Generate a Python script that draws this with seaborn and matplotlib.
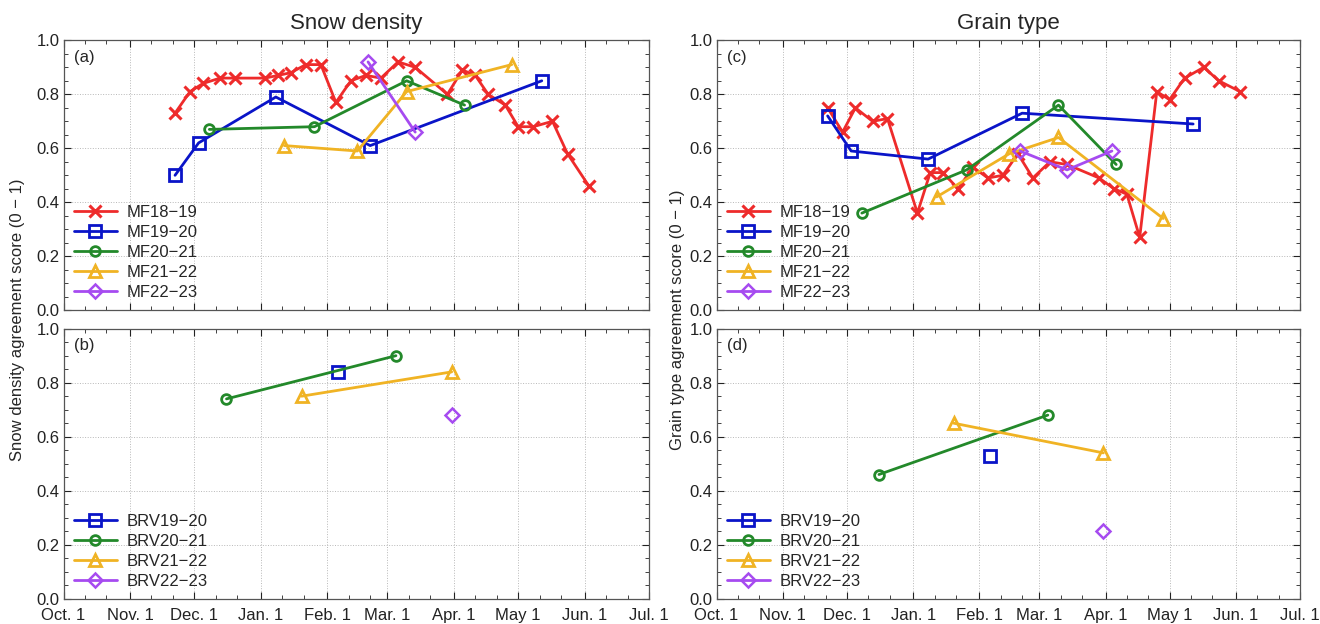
import numpy as np
import matplotlib
matplotlib.use("Agg")
import matplotlib.pyplot as plt
import seaborn as sns

# x positions are days since Oct. 1
month_days = [0, 31, 61, 92, 123, 151, 182, 212, 243, 273]
month_labels = ["Oct. 1", "Nov. 1", "Dec. 1", "Jan. 1", "Feb. 1",
                "Mar. 1", "Apr. 1", "May 1", "Jun. 1", "Jul. 1"]

# MF series (top panels)
mf1819_days = [52, 59, 65, 73, 80, 94, 100, 106, 113, 120, 127, 134, 141,
               148, 156, 164, 179, 186, 192, 198, 206, 212, 219, 228, 235, 245]
density_mf1819 = [0.73, 0.81, 0.84, 0.86, 0.86, 0.86, 0.87, 0.88, 0.91, 0.91,
                  0.77, 0.85, 0.87, 0.86, 0.92, 0.90, 0.80, 0.89, 0.87, 0.80,
                  0.76, 0.68, 0.68, 0.70, 0.58, 0.46]
grain_mf1819 = [0.75, 0.66, 0.75, 0.70, 0.71, 0.36, 0.51, 0.51, 0.45, 0.53,
                0.49, 0.50, 0.58, 0.49, 0.55, 0.54, 0.49, 0.45, 0.43, 0.27,
                0.81, 0.78, 0.86, 0.90, 0.85, 0.81]

mf1920_days = [52, 63, 99, 143, 223]
density_mf1920 = [0.50, 0.62, 0.79, 0.61, 0.85]
grain_mf1920 = [0.72, 0.59, 0.56, 0.73, 0.69]

mf2021_days = [68, 117, 160, 187]
density_mf2021 = [0.67, 0.68, 0.85, 0.76]
grain_mf2021 = [0.36, 0.52, 0.76, 0.54]

mf2122_days = [103, 137, 160, 209]
density_mf2122 = [0.61, 0.59, 0.81, 0.91]
grain_mf2122 = [0.42, 0.58, 0.64, 0.34]

mf2223_days = [142, 164, 185]
density_mf2223 = [0.92, 0.66, np.nan]
grain_mf2223 = [0.59, 0.52, 0.59]

# BRV series (bottom panels)
brv1920_days = [128]
density_brv1920 = [0.84]
grain_brv1920 = [0.53]

brv2021_days = [76, 155]
density_brv2021 = [0.74, 0.90]
grain_brv2021 = [0.46, 0.68]

brv2122_days = [111, 181]
density_brv2122 = [0.75, 0.84]
grain_brv2122 = [0.65, 0.54]

brv2223_days = [181]
density_brv2223 = [0.68]
grain_brv2223 = [0.25]

RED, BLUE, GREEN, GOLD, PURPLE = "#ee2b2b", "#0a14c8", "#23892a", "#f0b324", "#a64bf0"

style = {
    "18": dict(color=RED, marker="x", markersize=9, mew=2.2),
    "19": dict(color=BLUE, marker="s", markersize=8, mew=2),
    "20": dict(color=GREEN, marker="o", markersize=7, mew=2),
    "21": dict(color=GOLD, marker="^", markersize=9, mew=2),
    "22": dict(color=PURPLE, marker="D", markersize=7, mew=1.8),
}

top_density = [("MF18\u221219", mf1819_days, density_mf1819, "18"),
               ("MF19\u221220", mf1920_days, density_mf1920, "19"),
               ("MF20\u221221", mf2021_days, density_mf2021, "20"),
               ("MF21\u221222", mf2122_days, density_mf2122, "21"),
               ("MF22\u221223", mf2223_days, density_mf2223, "22")]
top_grain = [("MF18\u221219", mf1819_days, grain_mf1819, "18"),
             ("MF19\u221220", mf1920_days, grain_mf1920, "19"),
             ("MF20\u221221", mf2021_days, grain_mf2021, "20"),
             ("MF21\u221222", mf2122_days, grain_mf2122, "21"),
             ("MF22\u221223", mf2223_days, grain_mf2223, "22")]
bot_density = [("BRV19\u221220", brv1920_days, density_brv1920, "19"),
               ("BRV20\u221221", brv2021_days, density_brv2021, "20"),
               ("BRV21\u221222", brv2122_days, density_brv2122, "21"),
               ("BRV22\u221223", brv2223_days, density_brv2223, "22")]
bot_grain = [("BRV19\u221220", brv1920_days, grain_brv1920, "19"),
             ("BRV20\u221221", brv2021_days, grain_brv2021, "20"),
             ("BRV21\u221222", brv2122_days, grain_brv2122, "21"),
             ("BRV22\u221223", brv2223_days, grain_brv2223, "22")]

sns.set_theme(style="ticks")
plt.rcParams['font.family'] = ['Liberation Sans', 'DejaVu Sans']
plt.rcParams['axes.unicode_minus'] = True

fig = plt.figure(figsize=(13.2, 6.24), dpi=100)
W, H = 1320, 624
def box(l, r, t, b):
    return [l / W, 1 - b / H, (r - l) / W, (b - t) / H]

ax_a = fig.add_axes(box(63.5, 649, 40.3, 310.3))
ax_b = fig.add_axes(box(63.5, 649, 328.7, 598.7))
ax_c = fig.add_axes(box(716.5, 1300, 40.3, 310.3))
ax_d = fig.add_axes(box(716.5, 1300, 328.7, 598.7))

minor_days = []
for i in range(len(month_days) - 1):
    minor_days += [month_days[i] + 10, month_days[i] + 20]


def draw(ax, series, tag, bottom):
    for name, xs, ys, key in series:
        st = style[key]
        sns.lineplot(x=xs, y=ys, ax=ax, color=st["color"], marker=st["marker"],
                     markersize=st["markersize"], mfc="none", mec=st["color"],
                     mew=st["mew"], lw=2, label=name, sort=False)
    ax.set_xlim(0, 273)
    ax.set_ylim(0, 1)
    ax.set_xticks(month_days)
    ax.set_xticks(minor_days, minor=True)
    ax.set_yticks(np.arange(0, 1.01, 0.2))
    ax.set_yticks(np.arange(0, 1.001, 0.05), minor=True)
    ax.set_yticklabels([f"{v:.1f}" for v in np.arange(0, 1.01, 0.2)])
    if bottom:
        ax.set_xticklabels(month_labels)
    else:
        ax.set_xticklabels([])
    ax.tick_params(which="both", direction="in", top=True, right=True,
                   labelsize=12, colors="#222222")
    ax.tick_params(which="major", length=5, width=0.8)
    ax.tick_params(which="minor", length=3, width=0.6)
    ax.tick_params(axis="x", pad=7)
    ax.tick_params(axis="y", pad=3)
    ax.grid(True, which="major", ls=":", lw=0.7, color="#b8b8b8")
    for sp in ax.spines.values():
        sp.set_color("#555555")
        sp.set_linewidth(0.9)
    ax.set_xlabel("")
    ax.set_ylabel("")
    ax.text(0.018, 0.965, tag, transform=ax.transAxes, ha="left", va="top",
            fontsize=12)
    ax.legend(loc="lower left", frameon=False, fontsize=12, handlelength=2.6,
              labelspacing=0.3, handletextpad=0.6, borderaxespad=0.2,
              bbox_to_anchor=(0.0, 0.0))


draw(ax_a, top_density, "(a)", False)
draw(ax_b, bot_density, "(b)", True)
draw(ax_c, top_grain, "(c)", False)
draw(ax_d, bot_grain, "(d)", True)

ax_a.set_title("Snow density", fontsize=16, pad=8)
ax_c.set_title("Grain type", fontsize=16, pad=8)

fig.text(18 / W, 1 - 320 / H, "Snow density agreement score (0 \u2212 1)",
         rotation=90, ha="center", va="center", fontsize=12)
fig.text(677 / W, 1 - 320 / H, "Grain type agreement score (0 \u2212 1)",
         rotation=90, ha="center", va="center", fontsize=12)

fig.savefig("out.png", dpi=100)
